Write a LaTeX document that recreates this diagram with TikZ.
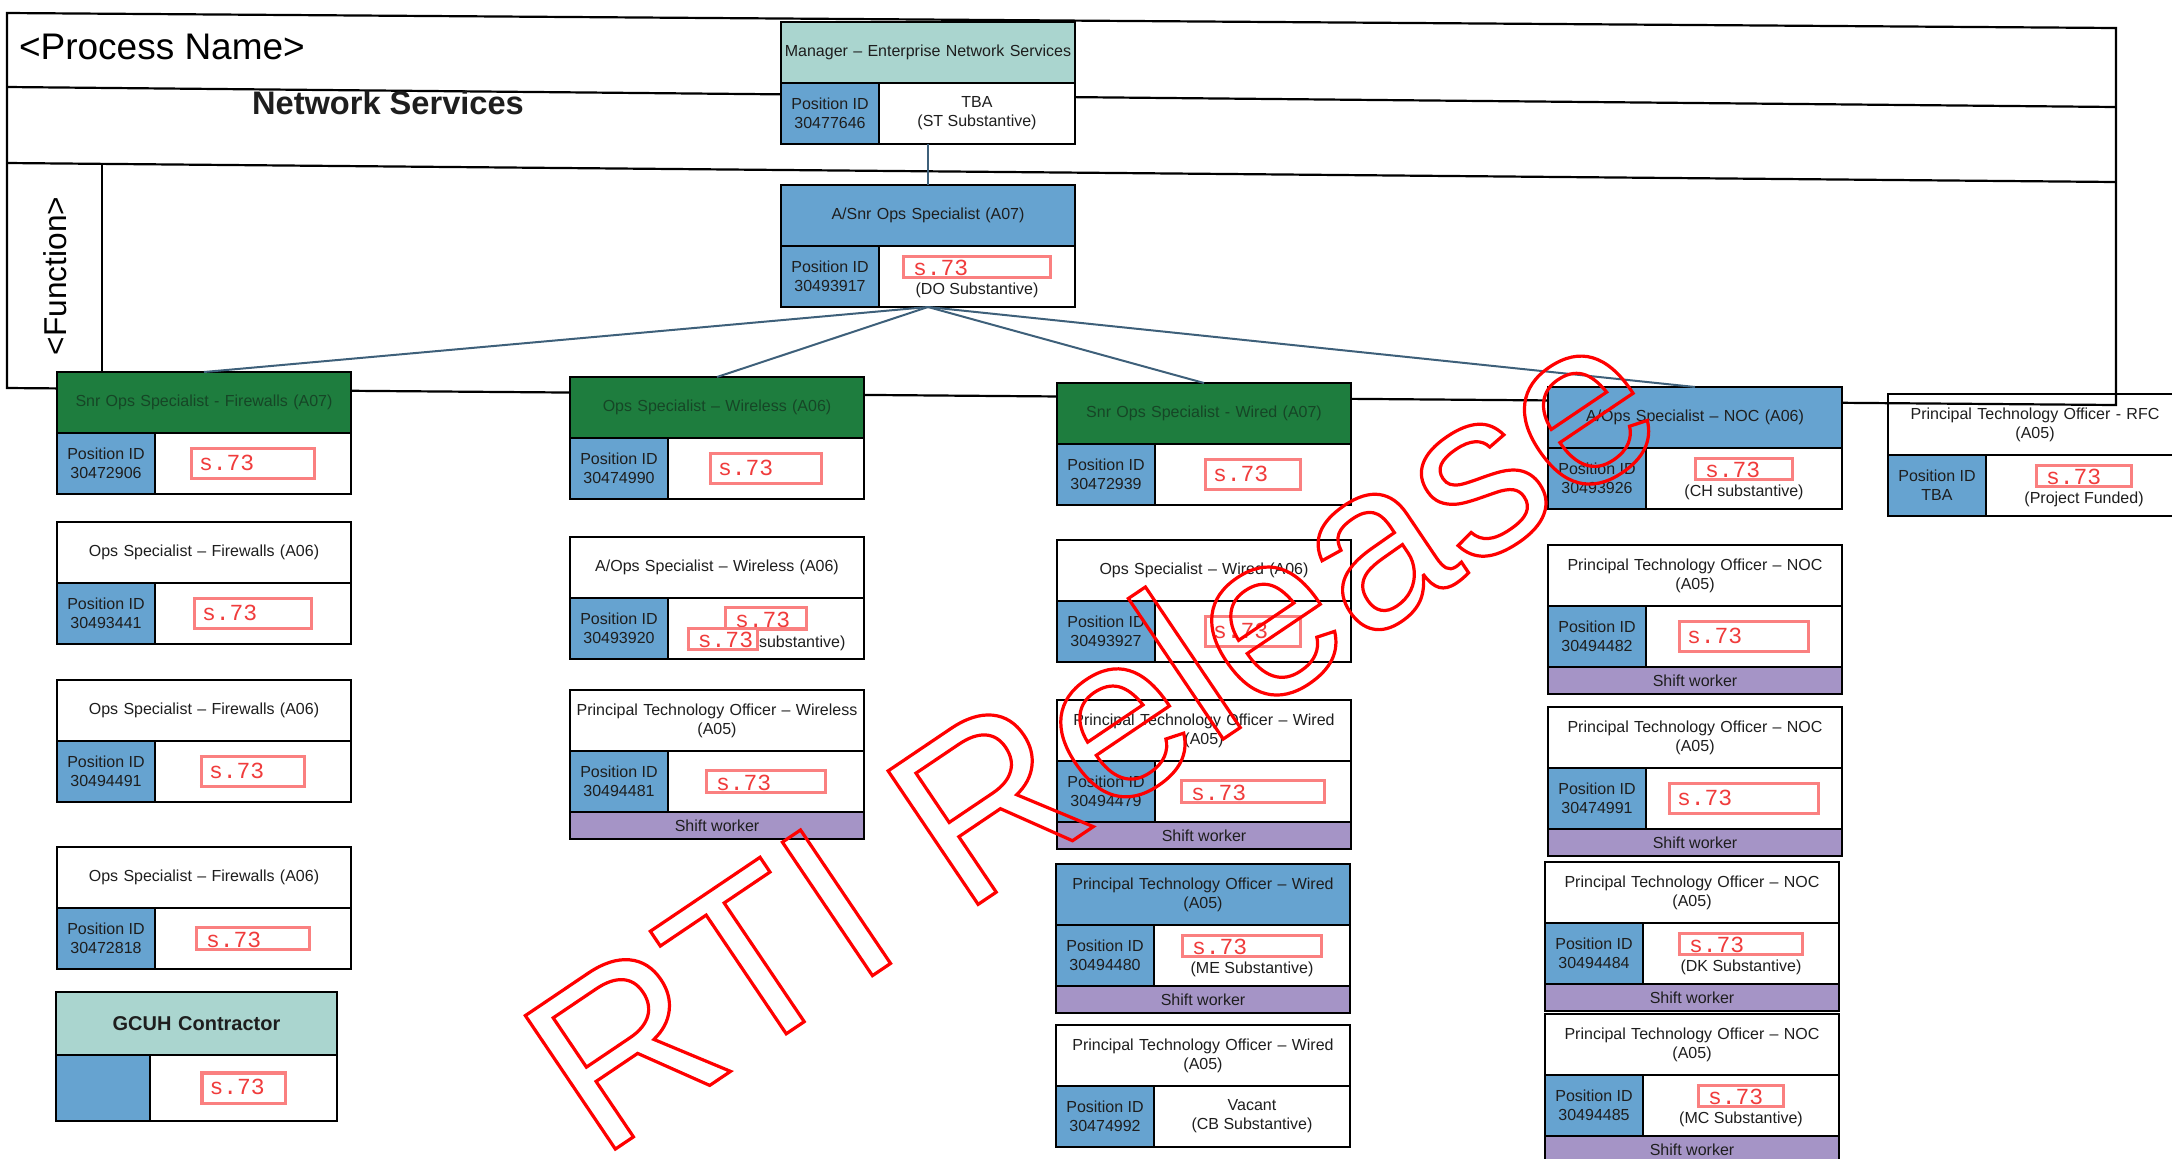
\documentclass[tikz,border=0pt]{standalone}
\usepackage{fontspec}
\setmainfont{Liberation Sans}
\newfontfamily\maskfont{Liberation Mono}

\definecolor{grnfill}{RGB}{30,125,62}
\definecolor{grntext}{RGB}{22,70,38}
\definecolor{tealfill}{RGB}{170,213,207}
\definecolor{bluefill}{RGB}{102,163,208}
\definecolor{purplefill}{RGB}{165,148,198}
\definecolor{redline}{RGB}{250,128,128}
\definecolor{redtext}{RGB}{240,60,60}
\definecolor{linkcol}{RGB}{62,96,122}
\definecolor{ink}{RGB}{30,30,30}

% blanked-out holder names
\newcommand{\redmono}{\maskfont\fontsize{11.5}{12}\selectfont\color{redtext}}
\newcommand{\sred}[1]{{\fboxsep=0pt\fboxrule=1.6pt\fcolorbox{redline}{white}{\makebox[#1][l]{\rule[-3.5pt]{0pt}{13.5pt}\hspace{3pt}{\redmono s.73}}}}}
\newcommand{\sredlow}[1]{{\fboxsep=0pt\fboxrule=1.6pt\fcolorbox{redline}{white}{\makebox[#1][l]{\rule{0pt}{9pt}\hspace{4pt}{\redmono s.73}}}}}

% one position: title, id cell, holder cell
\newcommand{\posbox}[6]{%
	\node[head,#3,anchor=north west] (#1) at (#2) {#4};
	\node[idcell,anchor=north west] (#1-id) at (#1.south west) {#5};
	\node[holder,anchor=north west] (#1-who) at (#1-id.north east) {#6};
	\coordinate (#1-b) at (#1.south |- #1-id.south);}
\newcommand{\shiftbar}[1]{%
	\node[swband,anchor=north west] (#1-sw) at (#1-id.south west) {Shift worker};}

\begin{document}
\begin{tikzpicture}[x=0.5pt,y=-0.5pt,
	every node/.style={inner sep=1.5pt,outer sep=0pt,text=ink,font=\fontsize{8}{9.5}\selectfont},
	part/.style={draw=black,line width=0.9pt,align=center,minimum height=30.5pt},
	head/.style={part,minimum width=147pt,text width=144pt},
	hdwhite/.style={fill=white},
	hdgreen/.style={fill=grnfill,text=grntext},
	hdblue/.style={fill=bluefill},
	hdteal/.style={fill=tealfill},
	idcell/.style={part,fill=bluefill,minimum width=49pt},
	holder/.style={part,fill=white,minimum width=98pt},
	swband/.style={part,fill=purplefill,minimum width=147pt,minimum height=13.5pt},
	lane/.style={line width=1.1pt},
	link/.style={draw=linkcol,line width=1pt}]
	\useasboundingbox (0,0) rectangle (2172,1158);
	\clip (0,0) rectangle (2172,1158);

	\posbox{rfc}{1888,394}{hdwhite}{Principal Technology Officer - RFC\\(A05)}{Position ID\\TBA}{\sredlow{46pt}\\(Project Funded)}

	% swim lanes
	\draw[lane] (7,13)--(2116,28)--(2116,405)--(7,388)--cycle;
	\draw[lane] (7,87)--(2116,107);
	\draw[lane] (7,163)--(2116,182);
	\draw[lane] (102,164)--(102,389);
	\node[anchor=west,font=\fontsize{18.5}{20}\selectfont,text=black] (proc) at (16,47) {<Process Name>};
	\node[font=\bfseries\fontsize{16.3}{18}\selectfont] (sect) at (388,103) {Network Services};
	\node[rotate=90,font=\fontsize{15.8}{17}\selectfont,text=black] (func) at (55,276) {<Function>};

	\posbox{mgr}{781,22}{hdteal}{Manager -- Enterprise Network Services}{Position ID\\30477646}{TBA\\(ST Substantive)}
	\posbox{asnr}{781,185}{hdblue}{A/Snr Ops Specialist (A07)}{Position ID\\30493917}{\sredlow{72pt}\\(DO Substantive)}

	% firewalls
	\posbox{fw1}{57,372}{hdgreen}{Snr Ops Specialist - Firewalls (A07)}{Position ID\\30472906}{\sred{60pt}}
	\posbox{fw2}{57,522}{hdwhite}{Ops Specialist -- Firewalls (A06)}{Position ID\\30493441}{\sred{57pt}}
	\posbox{fw3}{57,680}{hdwhite}{Ops Specialist -- Firewalls (A06)}{Position ID\\30494491}{\sred{50pt}}
	\posbox{fw4}{57,847}{hdwhite}{Ops Specialist -- Firewalls (A06)}{Position ID\\30472818}{\sredlow{55pt}}
	\node[head,hdteal,anchor=north west,minimum width=140.5pt,text width=137.5pt,minimum height=31.5pt,font=\bfseries\fontsize{10}{12}\selectfont] (gcuh) at (56,992) {GCUH Contractor};
	\node[idcell,anchor=north west,minimum width=47pt,minimum height=33pt] (gcuh-id) at (gcuh.south west) {};
	\node[holder,anchor=north west,minimum width=93.5pt,minimum height=33pt] (gcuh-who) at (gcuh-id.north east) {\sred{40pt}};

	% wireless
	\posbox{wl1}{570,377}{hdgreen}{Ops Specialist -- Wireless (A06)}{Position ID\\30474990}{\sred{54pt}}
	\posbox{wl2}{570,537}{hdwhite}{A/Ops Specialist -- Wireless (A06)}{Position ID\\30493920}{\sredlow{39pt}\\[-3pt]\sredlow{33pt}substantive)}
	\posbox{wl3}{570,690}{hdwhite}{Principal Technology Officer -- Wireless\\(A05)}{Position ID\\30494481}{\sredlow{58pt}}
	\shiftbar{wl3}

	% wired
	\posbox{wd1}{1057,383}{hdgreen}{Snr Ops Specialist - Wired (A07)}{Position ID\\30472939}{\sred{46pt}}
	\posbox{wd2}{1057,540}{hdwhite}{Ops Specialist -- Wired (A06)}{Position ID\\30493927}{\sred{46pt}}
	\posbox{wd3}{1057,700}{hdwhite}{Principal Technology Officer -- Wired\\(A05)}{Position ID\\30494479}{\sredlow{70pt}}
	\shiftbar{wd3}
	\posbox{wd4}{1056,864}{hdblue}{Principal Technology Officer -- Wired\\(A05)}{Position ID\\30494480}{\sredlow{68pt}\\(ME Substantive)}
	\shiftbar{wd4}
	\posbox{wd5}{1056,1025}{hdwhite}{Principal Technology Officer -- Wired\\(A05)}{Position ID\\30474992}{Vacant\\(CB Substantive)}

	% noc
	\posbox{noc1}{1548,387}{hdblue}{A/Ops Specialist -- NOC (A06)}{Position ID\\30493926}{\sredlow{47pt}\\(CH substantive)}
	\posbox{noc2}{1548,545}{hdwhite}{Principal Technology Officer -- NOC\\(A05)}{Position ID\\30494482}{\sred{63pt}}
	\shiftbar{noc2}
	\posbox{noc3}{1548,707}{hdwhite}{Principal Technology Officer -- NOC\\(A05)}{Position ID\\30474991}{\sred{73pt}}
	\shiftbar{noc3}
	\posbox{noc4}{1545,862}{hdwhite}{Principal Technology Officer -- NOC\\(A05)}{Position ID\\30494484}{\sredlow{60pt}\\(DK Substantive)}
	\shiftbar{noc4}
	\posbox{noc5}{1545,1014}{hdwhite}{Principal Technology Officer -- NOC\\(A05)}{Position ID\\30494485}{\sredlow{41pt}\\(MC Substantive)}
	\shiftbar{noc5}

	\draw[link] (mgr-b) -- (asnr.north);
	\foreach \col in {fw1,wl1,wd1,noc1}
		\draw[link] (asnr-b) -- (\col.north);

	% outlined stamp
	\node[rotate=34,inner sep=0pt,text=red,font=\fontsize{117}{117}\selectfont] (rti) at (1090,728) {\special{pdf:literal direct 1 Tr 1.6 w}RTI Release\special{pdf:literal direct 0 Tr}};
\end{tikzpicture}
\end{document}
